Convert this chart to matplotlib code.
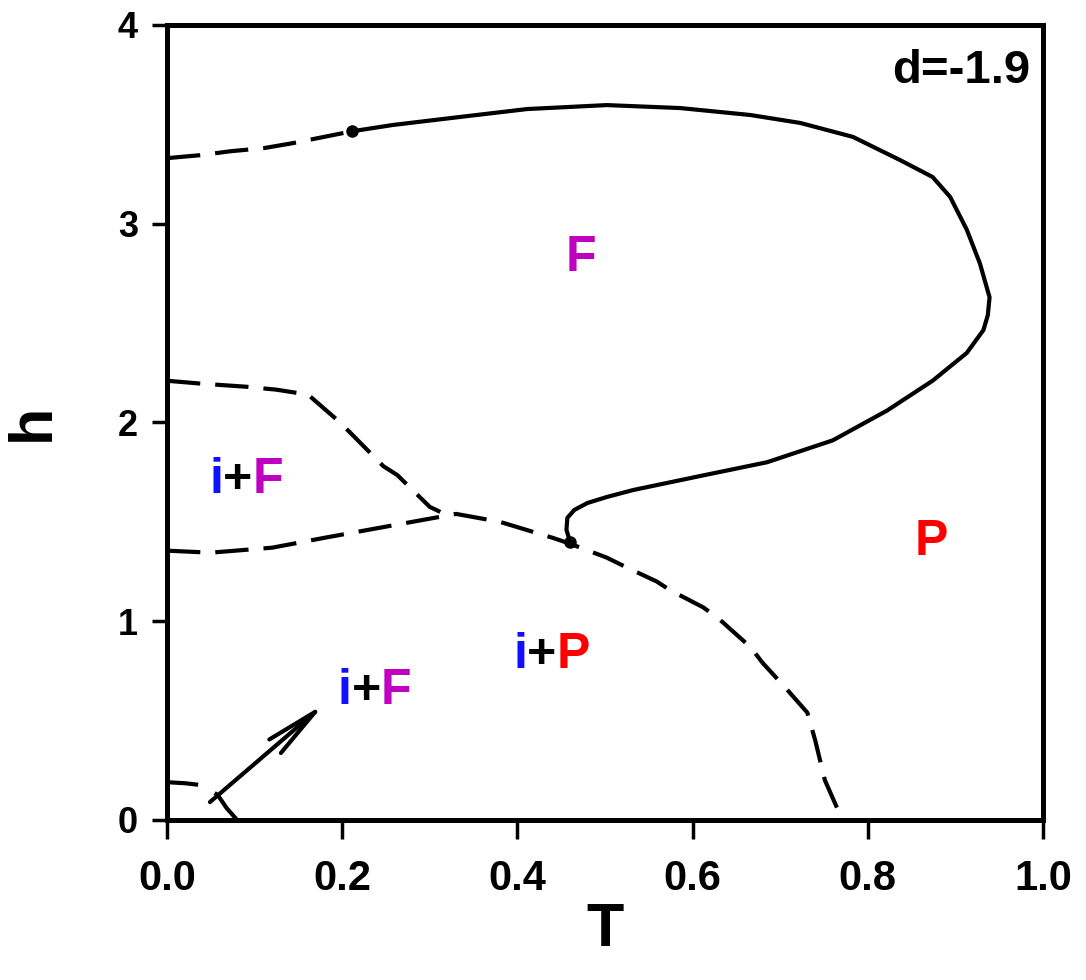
import numpy as np
import matplotlib
matplotlib.use("Agg")
from matplotlib import pyplot as plt

plt.rcParams['font.family'] = ['Liberation Sans', 'DejaVu Sans']
plt.rcParams['font.weight'] = 'bold'

# upper F boundary: dashed part then solid part
T_top_dash = [0.0, 0.038, 0.073, 0.11, 0.143, 0.177, 0.211]
h_top_dash = [3.33, 3.345, 3.365, 3.38, 3.405, 3.435, 3.465]

T_top_solid = [0.211, 0.258, 0.334, 0.411, 0.502, 0.586, 0.666, 0.723, 0.783, 0.837,
               0.874, 0.894, 0.913, 0.928, 0.939, 0.937, 0.932, 0.913, 0.874, 0.822,
               0.760, 0.685, 0.608, 0.532, 0.502, 0.48, 0.465, 0.457, 0.456, 0.46]
h_top_solid = [3.465, 3.497, 3.537, 3.577, 3.597, 3.582, 3.547, 3.507, 3.437, 3.32,
               3.235, 3.135, 2.97, 2.80, 2.63, 2.54, 2.465, 2.35, 2.21, 2.06,
               1.91, 1.80, 1.73, 1.66, 1.625, 1.595, 1.56, 1.52, 1.46, 1.40]

# i+F upper boundary
T_iF = [0.0, 0.04, 0.09, 0.125, 0.161, 0.195, 0.21, 0.247, 0.263, 0.30, 0.312]
h_iF = [2.21, 2.195, 2.18, 2.165, 2.14, 2.01, 1.945, 1.78, 1.735, 1.575, 1.55]

# lower dashed boundary (i+F / i+P / P)
T_low = [0.0, 0.05, 0.12, 0.18, 0.23, 0.28, 0.33, 0.38, 0.44, 0.46, 0.502, 0.525,
         0.559, 0.574, 0.612, 0.629, 0.666, 0.680, 0.705, 0.731, 0.740, 0.751, 0.771]
h_low = [1.355, 1.345, 1.37, 1.42, 1.46, 1.50, 1.54, 1.50, 1.42, 1.39, 1.32, 1.27,
         1.20, 1.157, 1.07, 1.016, 0.87, 0.79, 0.67, 0.54, 0.40, 0.20, 0.0]

# small low-T boundary
T_small = [0.0, 0.02, 0.04, 0.058, 0.068, 0.08]
h_small = [0.19, 0.185, 0.175, 0.125, 0.06, 0.0]

# special points
T_pts = [0.211, 0.46]
h_pts = [3.465, 1.40]

fig = plt.figure(figsize=(10.86, 9.80), dpi=100)
ax = fig.add_axes([0.1538, 0.1633, 0.8066, 0.8112])

lw = 3.0
dash = (0, (8, 3.6))
ax.plot(T_top_dash, h_top_dash, color='black', lw=lw, linestyle=dash)
ax.plot(T_top_solid, h_top_solid, color='black', lw=lw, solid_joinstyle='round')
ax.plot(T_iF, h_iF, color='black', lw=lw, linestyle=dash)
ax.plot(T_low, h_low, color='black', lw=lw, linestyle=dash)
ax.plot(T_small, h_small, color='black', lw=lw, linestyle=(0, (7.5, 4.5, 20, 5)))
ax.plot(T_pts, h_pts, 'o', color='black', markersize=8)

ax.annotate('', xy=(0.18, 0.585), xytext=(0.049, 0.09),
            arrowprops=dict(arrowstyle='->,head_length=1.9,head_width=0.32',
                            mutation_scale=20, lw=3.0, color='black',
                            shrinkA=0, shrinkB=0))

blue = '#1010ff'
mag = '#c000c0'
red = '#ff0000'
fs = 36


def label(x, y, parts):
    # coloured pieces placed side by side
    t = None
    for s, c in parts:
        if t is None:
            t = ax.text(x, y, s, color=c, fontsize=fs, fontweight='bold', ha='left', va='center')
        else:
            t = ax.annotate(s, xycoords=t, xy=(1, 0), va='bottom', ha='left',
                            color=c, fontsize=fs, fontweight='bold')


label(0.455, 2.83, [('F', mag)])
label(0.048, 1.71, [('i', blue), ('+', 'black'), ('F', mag)])
label(0.395, 0.83, [('i', blue), ('+', 'black'), ('P', red)])
label(0.195, 0.65, [('i', blue), ('+', 'black'), ('F', mag)])
label(0.854, 1.40, [('P', red)])
ax.text(0.985, 0.97, 'd=-1.9', transform=ax.transAxes, ha='right', va='top',
        fontsize=34, fontweight='bold', color='black')

ax.set_xlim(0, 1.0)
ax.set_ylim(0, 4)
ax.set_xticks([0.0, 0.2, 0.4, 0.6, 0.8, 1.0])
ax.set_xticklabels(['0.0', '0.2', '0.4', '0.6', '0.8', '1.0'])
ax.set_yticks([0, 1, 2, 3, 4])
for s in ax.spines.values():
    s.set_linewidth(3.6)
ax.tick_params(axis='x', length=14, width=2.5, pad=14, labelsize=30)
ax.tick_params(axis='y', length=11, width=2.5, pad=10, labelsize=26)
ax.set_xlabel('T', fontsize=44, fontweight='bold', labelpad=2)
ax.set_ylabel('h', fontsize=44, fontweight='bold', labelpad=40)

fig.savefig('out.png', dpi=100)
